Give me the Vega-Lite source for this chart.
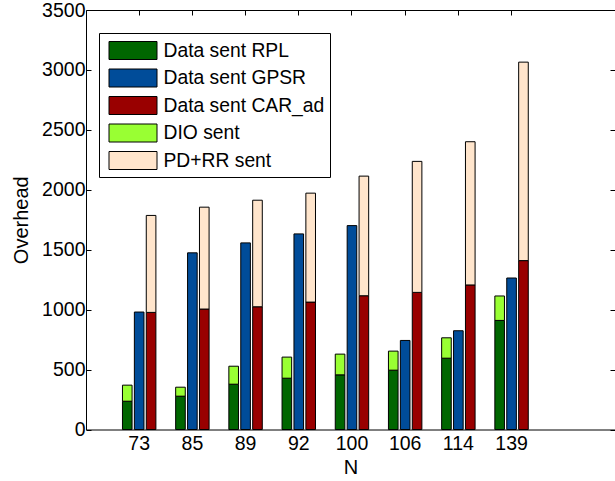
{
  "$schema": "https://vega.github.io/schema/vega-lite/v6.json",
  "autosize": "none",
  "padding": {"left": 86, "top": 10, "right": 0, "bottom": 51.5},
  "width": 529,
  "height": 419.5,
  "background": "white",
  "config": {
    "view": {"stroke": "black", "strokeWidth": 1},
    "font": "Liberation Sans",
    "axis": {
      "grid": false,
      "domain": false,
      "tickColor": "black",
      "tickWidth": 1,
      "labelColor": "black",
      "titleColor": "black",
      "labelFont": "Liberation Sans",
      "titleFont": "Liberation Sans",
      "labelFontSize": 19.5,
      "titleFontSize": 20,
      "titleFontWeight": "normal"
    }
  },
  "data": {
    "values": [
      {"N": "73", "group": "RPL", "kind": "data", "type": "Data sent RPL", "value": 236},
      {"N": "73", "group": "RPL", "kind": "control", "type": "DIO sent", "value": 134},
      {"N": "73", "group": "GPSR", "kind": "data", "type": "Data sent GPSR", "value": 980},
      {"N": "73", "group": "CAR", "kind": "data", "type": "Data sent CAR_ad", "value": 977},
      {"N": "73", "group": "CAR", "kind": "control", "type": "PD+RR sent", "value": 809},
      {"N": "85", "group": "RPL", "kind": "data", "type": "Data sent RPL", "value": 278},
      {"N": "85", "group": "RPL", "kind": "control", "type": "DIO sent", "value": 75},
      {"N": "85", "group": "GPSR", "kind": "data", "type": "Data sent GPSR", "value": 1474},
      {"N": "85", "group": "CAR", "kind": "data", "type": "Data sent CAR_ad", "value": 1005},
      {"N": "85", "group": "CAR", "kind": "control", "type": "PD+RR sent", "value": 850},
      {"N": "89", "group": "RPL", "kind": "data", "type": "Data sent RPL", "value": 378},
      {"N": "89", "group": "RPL", "kind": "control", "type": "DIO sent", "value": 150},
      {"N": "89", "group": "GPSR", "kind": "data", "type": "Data sent GPSR", "value": 1557},
      {"N": "89", "group": "CAR", "kind": "data", "type": "Data sent CAR_ad", "value": 1024},
      {"N": "89", "group": "CAR", "kind": "control", "type": "PD+RR sent", "value": 889},
      {"N": "92", "group": "RPL", "kind": "data", "type": "Data sent RPL", "value": 428},
      {"N": "92", "group": "RPL", "kind": "control", "type": "DIO sent", "value": 176},
      {"N": "92", "group": "GPSR", "kind": "data", "type": "Data sent GPSR", "value": 1632},
      {"N": "92", "group": "CAR", "kind": "data", "type": "Data sent CAR_ad", "value": 1063},
      {"N": "92", "group": "CAR", "kind": "control", "type": "PD+RR sent", "value": 909},
      {"N": "100", "group": "RPL", "kind": "data", "type": "Data sent RPL", "value": 456},
      {"N": "100", "group": "RPL", "kind": "control", "type": "DIO sent", "value": 173},
      {"N": "100", "group": "GPSR", "kind": "data", "type": "Data sent GPSR", "value": 1701},
      {"N": "100", "group": "CAR", "kind": "data", "type": "Data sent CAR_ad", "value": 1116},
      {"N": "100", "group": "CAR", "kind": "control", "type": "PD+RR sent", "value": 998},
      {"N": "106", "group": "RPL", "kind": "data", "type": "Data sent RPL", "value": 495},
      {"N": "106", "group": "RPL", "kind": "control", "type": "DIO sent", "value": 159},
      {"N": "106", "group": "GPSR", "kind": "data", "type": "Data sent GPSR", "value": 743},
      {"N": "106", "group": "CAR", "kind": "data", "type": "Data sent CAR_ad", "value": 1144},
      {"N": "106", "group": "CAR", "kind": "control", "type": "PD+RR sent", "value": 1093},
      {"N": "114", "group": "RPL", "kind": "data", "type": "Data sent RPL", "value": 595},
      {"N": "114", "group": "RPL", "kind": "control", "type": "DIO sent", "value": 170},
      {"N": "114", "group": "GPSR", "kind": "data", "type": "Data sent GPSR", "value": 824},
      {"N": "114", "group": "CAR", "kind": "data", "type": "Data sent CAR_ad", "value": 1206},
      {"N": "114", "group": "CAR", "kind": "control", "type": "PD+RR sent", "value": 1195},
      {"N": "139", "group": "RPL", "kind": "data", "type": "Data sent RPL", "value": 910},
      {"N": "139", "group": "RPL", "kind": "control", "type": "DIO sent", "value": 204},
      {"N": "139", "group": "GPSR", "kind": "data", "type": "Data sent GPSR", "value": 1264},
      {"N": "139", "group": "CAR", "kind": "data", "type": "Data sent CAR_ad", "value": 1409},
      {"N": "139", "group": "CAR", "kind": "control", "type": "PD+RR sent", "value": 1656}
    ]
  },
  "layer": [
    {
      "mark": {"type": "bar", "stroke": "black", "strokeWidth": 1},
      "encoding": {
        "x": {
          "field": "N", "type": "ordinal",
          "scale": {"domain": ["73", "85", "89", "92", "100", "106", "114", "139"], "paddingInner": 0, "paddingOuter": 0.972, "align": 0.257},
          "axis": {"orient": "bottom", "title": "N", "labelAngle": 0, "tickSize": -5, "labelPadding": 10, "titlePadding": 4}
        },
        "xOffset": {
          "field": "group", "type": "nominal",
          "scale": {"domain": ["RPL", "GPSR", "CAR"], "paddingInner": 0.193, "paddingOuter": 0.83}
        },
        "y": {
          "field": "value", "type": "quantitative", "stack": "zero",
          "scale": {"domain": [0, 3500], "nice": false},
          "axis": {"orient": "left", "title": "Overhead", "format": "d", "values": [0, 500, 1000, 1500, 2000, 2500, 3000, 3500], "tickSize": -5, "labelPadding": 6, "titlePadding": 10}
        },
        "order": {"field": "kind", "sort": "descending"},
        "color": {
          "field": "type", "type": "nominal",
          "sort": ["Data sent RPL", "Data sent GPSR", "Data sent CAR_ad", "DIO sent", "PD+RR sent"],
          "scale": {
            "domain": ["Data sent RPL", "Data sent GPSR", "Data sent CAR_ad", "DIO sent", "PD+RR sent"],
            "range": ["#006600", "#004C99", "#990000", "#99FF33", "#FFE5CC"]
          },
          "legend": {
            "orient": "none", "legendX": 13, "legendY": 23,
            "title": null,
            "strokeColor": "black", "fillColor": "white", "padding": 5,
            "symbolType": "M-2,-0.75H2V0.75H-2Z", "symbolSize": 576,
            "symbolStrokeColor": "black", "symbolStrokeWidth": 1, "symbolOpacity": 1,
            "symbolOffset": 16.5, "labelOffset": 18, "rowPadding": 3.5,
            "labelFont": "Liberation Sans", "labelFontSize": 19.3, "labelColor": "black", "labelLimit": 400
          }
        }
      }
    },
    {
      "mark": {"type": "point", "opacity": 0},
      "encoding": {
        "x": {"field": "N", "type": "ordinal", "axis": {"orient": "top", "labels": false, "title": null, "tickSize": -5}},
        "y": {"field": "value", "type": "quantitative", "axis": {"orient": "right", "labels": false, "title": null, "tickSize": -5, "values": [0, 500, 1000, 1500, 2000, 2500, 3000, 3500]}}
      }
    }
  ],
  "resolve": {"axis": {"x": "independent", "y": "independent"}}
}
